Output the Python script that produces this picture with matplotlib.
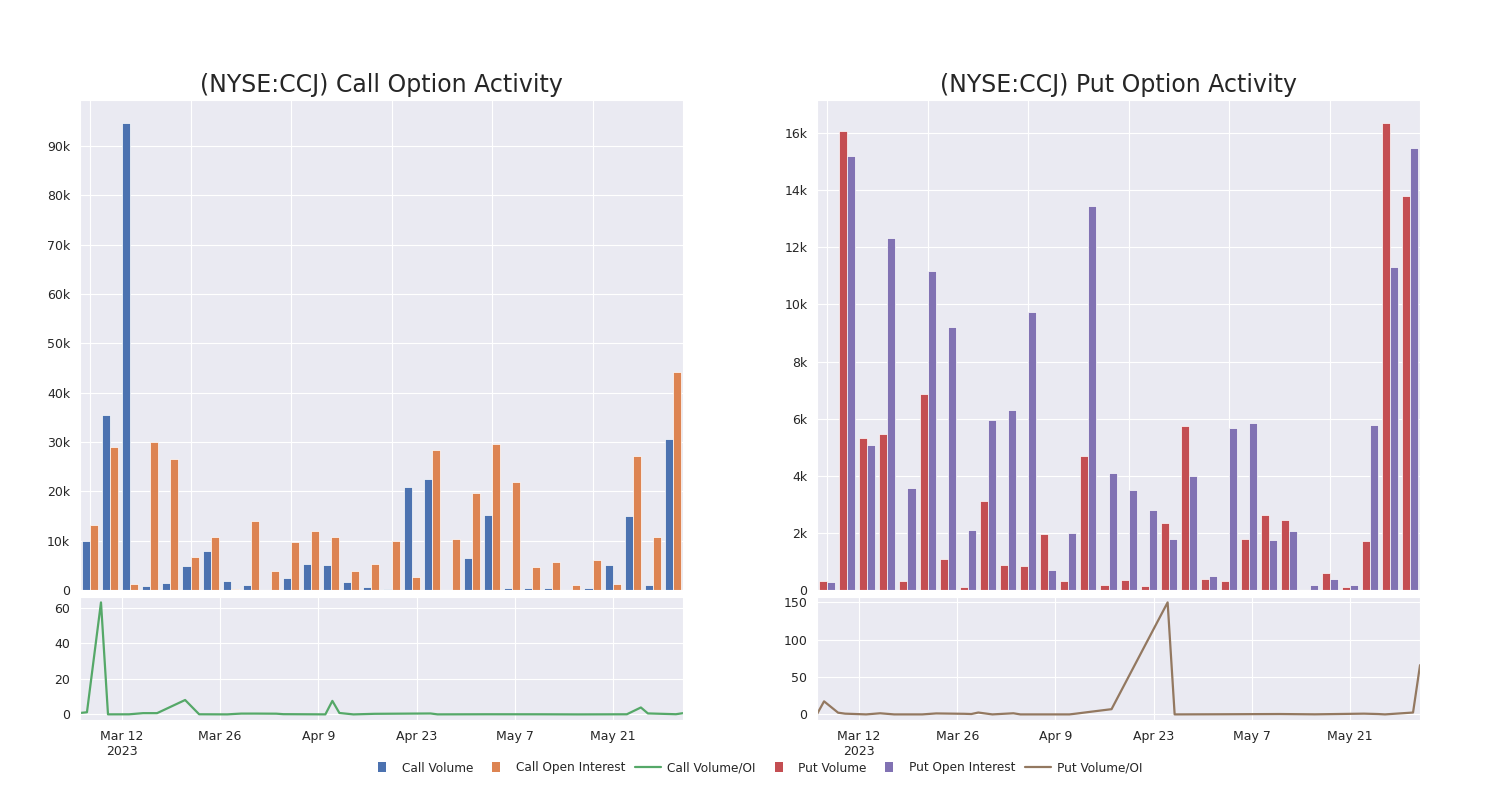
import numpy as np
import pandas as pd
import matplotlib
matplotlib.use('Agg')
import matplotlib.pyplot as plt
import matplotlib.ticker as mticker
from matplotlib.lines import Line2D
import seaborn as sns

sns.set_style('darkgrid')
plt.rcParams['font.family'] = ['DejaVu Sans']

dates = pd.to_datetime([
    '2023-03-06', '2023-03-07', '2023-03-09', '2023-03-10', '2023-03-13',
    '2023-03-15', '2023-03-17', '2023-03-21', '2023-03-23', '2023-03-27',
    '2023-03-28', '2023-03-29', '2023-03-31', '2023-04-03', '2023-04-04',
    '2023-04-10', '2023-04-11', '2023-04-12', '2023-04-14', '2023-04-17',
    '2023-04-25', '2023-04-26', '2023-05-03', '2023-05-11', '2023-05-16',
    '2023-05-23', '2023-05-25', '2023-05-26', '2023-05-30', '2023-05-31'])

# calls (thousands)
call_volume = [10.0, 35.5, 94.6, 0.8, 1.35, 4.9, 7.9, 1.9, 1.0, 0.05,
               2.4, 5.35, 5.0, 1.55, 0.7, 0.15, 20.9, 22.4, 0.0, 6.4,
               15.3, 0.5, 0.35, 0.35, 0.0, 0.4, 5.0, 14.9, 1.1, 30.6]
call_oi = [13.1, 28.9, 1.3, 30.1, 26.5, 6.7, 10.8, 0.15, 14.0, 3.9,
           9.8, 11.9, 10.8, 3.9, 5.2, 10.0, 2.7, 28.3, 10.4, 19.6,
           29.5, 21.8, 4.6, 5.6, 0.95, 6.0, 1.2, 27.2, 10.8, 44.2]
call_ratio = [0.8, 1.2, 63.0, 0.03, 0.05, 0.7, 0.7, 8.1, 0.07, 0.01,
              0.25, 0.45, 0.46, 0.4, 0.13, 0.02, 7.6, 0.8, 0.0, 0.33,
              0.52, 0.02, 0.08, 0.06, 0.0, 0.07, 3.9, 0.55, 0.1, 0.69]

# puts (thousands)
put_volume = [0.32, 16.07, 5.32, 5.46, 0.32, 6.85, 1.1, 0.1, 3.11, 0.87,
              0.84, 1.96, 0.3, 4.7, 0.16, 0.35, 0.14, 2.33, 5.73, 0.37,
              0.32, 1.8, 2.62, 2.44, 0.0, 0.61, 0.09, 1.7, 16.34, 13.8]
put_oi = [0.27, 15.19, 5.08, 12.32, 3.58, 11.16, 9.2, 2.1, 5.94, 6.29,
          9.73, 0.7, 1.99, 13.45, 4.09, 3.5, 2.8, 1.78, 4.0, 0.5,
          5.67, 5.84, 1.75, 2.07, 0.16, 0.4, 0.18, 5.79, 11.32, 15.46]
put_ratio = [0.5, 17.5, 2.3, 1.0, 0.0, 1.5, 0.0, 0.0, 1.3, 0.8,
             0.5, 2.5, 0.0, 1.5, 0.0, 0.0, 0.0, 1.1, 3.5, 7.0,
             150.0, 0.0, 0.2, 0.5, 0.1, 1.0, 0.5, 0.0, 2.5, 66.0]

date_ticks = pd.to_datetime(['2023-03-12', '2023-03-26', '2023-04-09',
                             '2023-04-23', '2023-05-07', '2023-05-21'])
date_labels = ['Mar 12\n2023', 'Mar 26', 'Apr 9', 'Apr 23', 'May 7', 'May 21']

blue, orange, green = '#4C72B0', '#DD8452', '#55A868'
red, purple, brown = '#C44E52', '#8172B3', '#937860'

fig = plt.figure(figsize=(15, 8), dpi=100)


def kfmt(v, pos):
    if v == 0:
        return '0'
    return '%dk' % round(v / 1000)


def panel(left, title, vol, oi, ratio, c1, c2, c3, ystep):
    ax = fig.add_axes([left, 0.2625, 0.402, 0.6125])
    x = np.arange(len(vol))
    ax.bar(x - 0.2, np.array(vol) * 1000, 0.4, color=c1, edgecolor='white', linewidth=0.5)
    ax.bar(x + 0.2, np.array(oi) * 1000, 0.4, color=c2, edgecolor='white', linewidth=0.5)
    ax.set_xlim(-0.5, len(vol) - 0.5)
    ax.xaxis.set_major_locator(mticker.MultipleLocator(5))
    ax.set_xticklabels([])
    ax.yaxis.set_major_locator(mticker.MultipleLocator(ystep))
    ax.yaxis.set_major_formatter(mticker.FuncFormatter(kfmt))
    ax.tick_params(labelsize=9)
    ax.set_title(title, fontsize=17)

    ax2 = fig.add_axes([left, 0.1, 0.402, 0.154])
    ax2.plot(dates, ratio, color=c3, linewidth=1.6)
    ax2.set_xlim(dates[0], dates[-1])
    ax2.set_xticks(date_ticks)
    ax2.set_xticklabels(date_labels)
    ax2.tick_params(labelsize=9)
    return ax, ax2


panel(0.0533, '(NYSE:CCJ) Call Option Activity', call_volume, call_oi, call_ratio,
      blue, orange, green, 10000)
panel(0.5447, '(NYSE:CCJ) Put Option Activity', put_volume, put_oi, put_ratio,
      red, purple, brown, 2000)

# narrow upright box used as the bar marker in the legend
box = [(-0.35, -0.5), (0.35, -0.5), (0.35, 0.5), (-0.35, 0.5), (-0.35, -0.5)]


def bar_handle(c):
    return Line2D([], [], marker=box, linestyle='none', color=c,
                  markersize=7.5, markeredgewidth=0)


handles = [bar_handle(blue), bar_handle(orange),
           Line2D([], [], color=green, linewidth=1.6),
           bar_handle(red), bar_handle(purple),
           Line2D([], [], color=brown, linewidth=1.6)]
labels = ['Call Volume', 'Call Open Interest', 'Call Volume/OI',
          'Put Volume', 'Put Open Interest', 'Put Volume/OI']
fig.legend(handles, labels, loc='center', bbox_to_anchor=(0.504, 0.04), ncol=6,
           frameon=False, fontsize=8.7, handlelength=2.2, handletextpad=0.5,
           columnspacing=0.8)

fig.savefig('out.png', dpi=100)
